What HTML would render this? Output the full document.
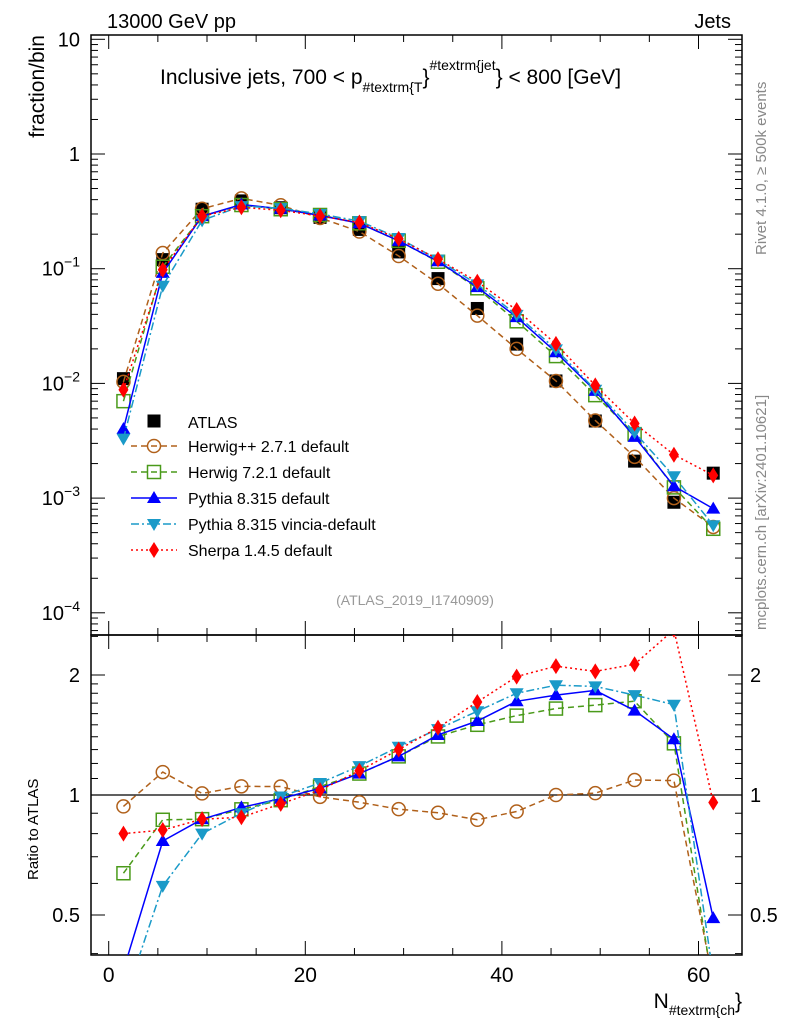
<!DOCTYPE html>
<html><head><meta charset="utf-8"><style>
body{margin:0;background:#fff}
svg{display:block;font-family:"Liberation Sans",sans-serif}
</style></head><body>
<svg id="c" width="786" height="1024" viewBox="0 0 786 1024">
<defs>
<clipPath id="cm"><rect x="91" y="35" width="651" height="600"/></clipPath>
<clipPath id="cr"><rect x="91" y="635" width="651" height="320"/></clipPath>
</defs>
<text x="107" y="28" font-size="20">13000 GeV pp</text>
<text x="731" y="28" font-size="20" text-anchor="end">Jets</text>
<text x="160" y="84" font-size="21">Inclusive jets, 700 &lt; p<tspan font-size="14" dy="8">#textrm{T</tspan><tspan dy="-8">}</tspan><tspan font-size="14" dy="-14">#textrm{jet</tspan><tspan dy="14">} &lt; 800 [GeV]</tspan></text>
<text transform="translate(44,35) rotate(-90)" font-size="21" text-anchor="end">fraction/bin</text>
<text transform="translate(38,880) rotate(-90)" font-size="15">Ratio to ATLAS</text>
<text x="742" y="1008" font-size="21" text-anchor="end">N<tspan font-size="14" dy="7">#textrm{ch</tspan><tspan dy="-7">}</tspan></text>
<text transform="translate(766,255) rotate(-90)" font-size="15" fill="#888">Rivet 4.1.0, ≥ 500k events</text>
<text transform="translate(766,630) rotate(-90)" font-size="15" fill="#888">mcplots.cern.ch [arXiv:2401.10621]</text>
<text x="415" y="605" font-size="14" fill="#999" text-anchor="middle">(ATLAS_2019_I1740909)</text>
<g id="g"></g>
</svg>
<script>
const nch=[1.5,5.5,9.5,13.5,17.5,21.5,25.5,29.5,33.5,37.5,41.5,45.5,49.5,53.5,57.5,61.5];
const atlas=[0.011,0.12,0.33,0.39,0.34,0.28,0.22,0.14,0.082,0.045,0.022,0.0105,0.0047,0.0021,0.00092,0.00165];
const herwigpp=[0.0103,0.137,0.333,0.41,0.357,0.277,0.211,0.129,0.074,0.039,0.020,0.0105,0.00475,0.00229,0.001,0.00056];
const herwig7=[0.0070,0.104,0.287,0.359,0.33,0.294,0.249,0.175,0.115,0.0675,0.0348,0.0173,0.0079,0.00361,0.00124,0.00054];
const pythia=[0.0040,0.092,0.287,0.363,0.333,0.291,0.249,0.175,0.116,0.069,0.0378,0.0187,0.0086,0.00342,0.00127,0.00081];
const vincia=[0.0033,0.071,0.264,0.351,0.337,0.30,0.26,0.185,0.12,0.073,0.0396,0.0198,0.0088,0.00374,0.00155,0.00058];
const sherpa=[0.0088,0.098,0.287,0.343,0.323,0.288,0.253,0.182,0.121,0.077,0.0436,0.0221,0.0096,0.00447,0.00239,0.00158];
const xTicks=[0,20,40,60];
const ratioTicks=[0.5,1,2];

const NS="http://www.w3.org/2000/svg";
const g=document.getElementById('g');
function el(t,a,p){const e=document.createElementNS(NS,t);for(const k in a)e.setAttribute(k,a[k]);(p||g).appendChild(e);return e;}
const X=v=>108.7+v*9.83;
const Y=v=>154-Math.log10(v)*114.7;
const R=v=>795-Math.log10(v)*398.6;

let f=el('rect',{x:91,y:35,width:651,height:600,fill:'none',stroke:'#000','stroke-width':1.5});

f=el('rect',{x:91,y:635,width:651,height:320,fill:'none',stroke:'#000','stroke-width':1.5});

let l=el('line',{x1:91,x2:742,y1:R(1),y2:R(1),stroke:'#000','stroke-width':1.2});


for(let v=0;v<=64;v+=5){const maj=v%20===0;
 for(const [y0,d] of [[635,-1],[35,1],[955,-1],[635,1]]){
  el('line',{x1:X(v),x2:X(v),y1:y0,y2:y0+d*(maj?14:7),stroke:'#000'});}
}
xTicks.forEach(v=>{const t=el('text',{x:X(v),y:982,'font-size':21,'text-anchor':'middle'});t.textContent=v;
 });
const sup={'-1':'−1','-2':'−2','-3':'−3','-4':'−4'};
for(let e=-5;e<=1;e++){for(let m=1;m<10;m++){const v=m*Math.pow(10,e);const y=Y(v);if(y<35||y>635)continue;
 const L=m===1?14:7;el('line',{x1:91,x2:91+L,y1:y,y2:y,stroke:'#000'});el('line',{x1:742,x2:742-L,y1:y,y2:y,stroke:'#000'});}
 const y=Y(Math.pow(10,e));if(y<35||y>640)continue;
 const t=el('text',{x:80,y:y+7,'font-size':20,'text-anchor':'end'});
 
 if(e===1)t.textContent='10';else if(e===0)t.textContent='1';
 else{t.textContent='10';const s=el('tspan',{dy:-9,'font-size':14},t);s.textContent=sup[e];}
}
[0.4,0.5,0.6,0.7,0.8,0.9,1,1.1,1.2,1.3,1.4,1.5,1.6,1.7,1.8,1.9,2,2.5].forEach(v=>{const y=R(v);const maj=ratioTicks.includes(v);
 el('line',{x1:91,x2:91+(maj?14:7),y1:y,y2:y,stroke:'#000'});el('line',{x1:742,x2:742-(maj?14:7),y1:y,y2:y,stroke:'#000'});});
ratioTicks.forEach(v=>{for(const [x,a] of [[80,'end'],[750,'start']]){const t=el('text',{x:x,y:R(v)+7,'font-size':20,'text-anchor':a});t.textContent=v;
 }});

function marker(type,x,y,col,parent){
 const s=6.5;let e;
 if(type==='sq')e=el('rect',{x:x-s,y:y-s,width:2*s,height:2*s,fill:'#000'},parent);
 else if(type==='circ')e=el('circle',{cx:x,cy:y,r:s,fill:'none',stroke:col,'stroke-width':1.5},parent);
 else if(type==='osq')e=el('rect',{x:x-s,y:y-s,width:2*s,height:2*s,fill:'none',stroke:col,'stroke-width':1.5},parent);
 else if(type==='up')e=el('polygon',{points:`${x},${y-7} ${x-7},${y+5} ${x+7},${y+5}`,fill:col},parent);
 else if(type==='dn')e=el('polygon',{points:`${x},${y+7} ${x-7},${y-5} ${x+7},${y-5}`,fill:col},parent);
 else e=el('polygon',{points:`${x},${y-8} ${x-5},${y} ${x},${y+8} ${x+5},${y}`,fill:col},parent);
 return e;
}
const series=[
 {name:'herwigpp',d:herwigpp,col:'#b0601a',dash:'6,4',m:'circ',lab:'Herwig++ 2.7.1 default'},
 {name:'herwig7',d:herwig7,col:'#4a9a1a',dash:'6,4',m:'osq',lab:'Herwig 7.2.1 default'},
 {name:'pythia',d:pythia,col:'#0000ff',dash:'',m:'up',lab:'Pythia 8.315 default'},
 {name:'vincia',d:vincia,col:'#1a9ac8',dash:'8,3,2,3',m:'dn',lab:'Pythia 8.315 vincia-default'},
 {name:'sherpa',d:sherpa,col:'#ff0000',dash:'2,3',m:'dia',lab:'Sherpa 1.4.5 default'}];

const gm=el('g',{'clip-path':'url(#cm)'});
const gr=el('g',{'clip-path':'url(#cr)'});
atlas.forEach((v,i)=>{const m=marker('sq',X(nch[i]),Y(v),'#000',gm);});
series.forEach(s=>{
 let p=el('polyline',{points:s.d.map((v,i)=>X(nch[i])+','+Y(v)).join(' '),fill:'none',stroke:s.col,'stroke-width':1.5,'stroke-dasharray':s.dash},gm);
 
 s.d.forEach((v,i)=>{const m=marker(s.m,X(nch[i]),Y(v),s.col,gm);});
 const r=s.d.map((v,i)=>v/atlas[i]);
 p=el('polyline',{points:r.map((v,i)=>X(nch[i])+','+R(v)).join(' '),fill:'none',stroke:s.col,'stroke-width':1.5,'stroke-dasharray':s.dash},gr);
 
 r.forEach((v,i)=>{const m=marker(s.m,X(nch[i]),R(v),s.col,gr);});
});
const lg=el('g',{});
let t=el('text',{x:188,y:428,'font-size':16},lg);t.textContent='ATLAS';
marker('sq',154,421,'#000',lg);
series.forEach((s,k)=>{const y=446+k*26;
 const e=el('g',{},lg);
 el('line',{x1:131,x2:177,y1:y,y2:y,stroke:s.col,'stroke-width':1.5,'stroke-dasharray':s.dash},e);
 marker(s.m,154,y,s.col,e);
 const tt=el('text',{x:188,y:y+6,'font-size':16},e);tt.textContent=s.lab;});
</script>
</body></html>
